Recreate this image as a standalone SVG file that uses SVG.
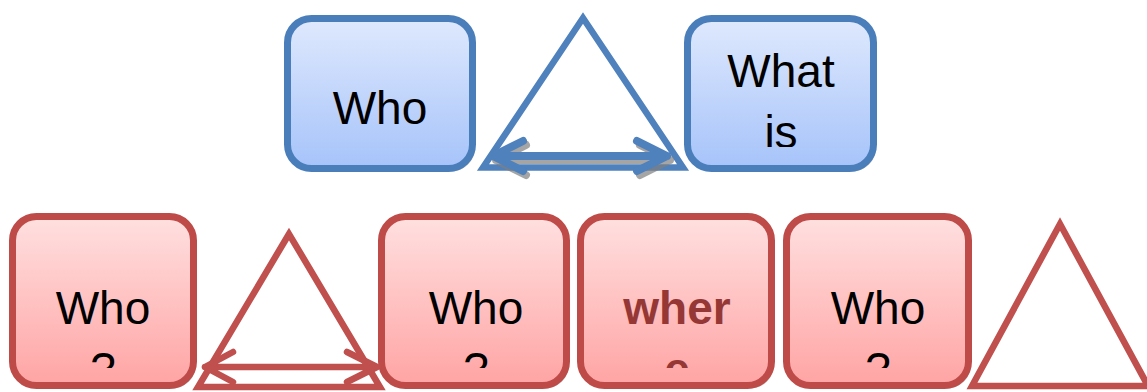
<svg xmlns="http://www.w3.org/2000/svg" width="1147" height="392" viewBox="0 0 1147 392">
  <defs>
    <linearGradient id="gBlue" x1="0" y1="0" x2="0" y2="1">
      <stop offset="0" stop-color="#dfe9fd"/>
      <stop offset="1" stop-color="#a6c3fa"/>
    </linearGradient>
    <linearGradient id="gRed" x1="0" y1="0" x2="0" y2="1">
      <stop offset="0" stop-color="#ffe0e0"/>
      <stop offset="1" stop-color="#ffa4a4"/>
    </linearGradient>
    <clipPath id="clipTop"><rect x="0" y="0" width="1147" height="147"/></clipPath>
    <clipPath id="clipBot"><rect x="0" y="200" width="1147" height="168"/></clipPath>
  </defs>
  <style>
    .shadow { fill: #8c8c8c; opacity: 0.55; }
    .boxB { fill: url(#gBlue); stroke: #4a7ebb; stroke-width: 7; }
    .boxR { fill: url(#gRed); stroke: #be4b48; stroke-width: 7; }
    .triB { fill: none; stroke: #4f81bd; stroke-width: 6.5; stroke-linejoin: miter; stroke-miterlimit: 10; }
    .triR { fill: none; stroke: #c0504d; stroke-width: 6.5; stroke-linejoin: miter; stroke-miterlimit: 10; }
    .lbl { font-family: "Liberation Sans", Arial, sans-serif; font-size: 46px; fill: #000; text-anchor: middle; }
    .lblBold { font-family: "Liberation Sans", Arial, sans-serif; font-size: 46px; font-weight: bold; fill: #953735; text-anchor: middle; }
    .arrB { fill: none; stroke: #4f81bd; stroke-width: 8; stroke-linecap: round; stroke-linejoin: round; }
    .arrBs { fill: none; stroke: #7f7f7f; stroke-width: 8; stroke-linecap: round; stroke-linejoin: round; opacity: 0.7; }
    .arrR { fill: none; stroke: #c0504d; stroke-width: 6.5; stroke-linecap: round; stroke-linejoin: round; }
  </style>

  <!-- Top row -->
  <g id="node-who-top">
    <rect class="shadow" x="290" y="21.5" width="185" height="150" rx="24"/>
    <rect class="boxB" x="287.5" y="18.5" width="185" height="150" rx="24"/>
    <text class="lbl" x="380" y="124">Who</text>
  </g>

  <g id="node-tri-top">
    <polygon class="triB" points="583,18 483,167.5 683,167.5"/>
  </g>

  <g id="node-whatis">
    <rect class="shadow" x="690" y="21.5" width="186" height="150" rx="24"/>
    <rect class="boxB" x="687.5" y="18.5" width="186" height="150" rx="24"/>
    <text class="lbl" clip-path="url(#clipTop)"><tspan x="781" y="87">What</tspan><tspan x="781" y="148">is</tspan></text>
  </g>

  <!-- Bottom row -->
  <g id="node-who-1">
    <rect class="shadow" x="15" y="219.5" width="181" height="169" rx="24"/>
    <rect class="boxR" x="12.5" y="216.5" width="181" height="169" rx="24"/>
    <text class="lbl" clip-path="url(#clipBot)"><tspan x="103" y="324">Who</tspan><tspan x="103" y="385">?</tspan></text>
  </g>

  <g id="node-tri-1">
    <polygon class="triR" points="289,234 198,387 380,387"/>
  </g>

  <g id="node-who-2">
    <rect class="shadow" x="384" y="219.5" width="185" height="169" rx="24"/>
    <rect class="boxR" x="381.5" y="216.5" width="185" height="169" rx="24"/>
    <text class="lbl" clip-path="url(#clipBot)"><tspan x="476" y="324">Who</tspan><tspan x="476" y="385">?</tspan></text>
  </g>

  <g id="node-where">
    <rect class="shadow" x="583" y="219.5" width="191" height="169" rx="24"/>
    <rect class="boxR" x="580.5" y="216.5" width="191" height="169" rx="24"/>
    <text class="lblBold" clip-path="url(#clipBot)"><tspan x="677" y="324">wher</tspan><tspan x="677" y="385">e</tspan></text>
  </g>

  <g id="node-who-3">
    <rect class="shadow" x="789" y="219.5" width="182" height="169" rx="24"/>
    <rect class="boxR" x="786.5" y="216.5" width="182" height="169" rx="24"/>
    <text class="lbl" clip-path="url(#clipBot)"><tspan x="878" y="324">Who</tspan><tspan x="878" y="385">?</tspan></text>
  </g>

  <g id="node-tri-2">
    <polygon class="triR" points="1060,224 972,386 1148,386"/>
  </g>

  <!-- Connectors -->
  <g id="connectors">
    <path class="arrBs" d="M526,145 L496,160 L526,175 M496,160 L670,160 M640,145 L670,160 L640,175"/>
    <path class="arrB" d="M523,141 L493,156 L523,171 M493,156 L667,156 M637,141 L667,156 L637,171"/>
    <path class="arrR" d="M233,352 L205,367 L233,382 M205,367 L377,367 M347,352 L377,367 L347,382"/>
  </g>
</svg>
